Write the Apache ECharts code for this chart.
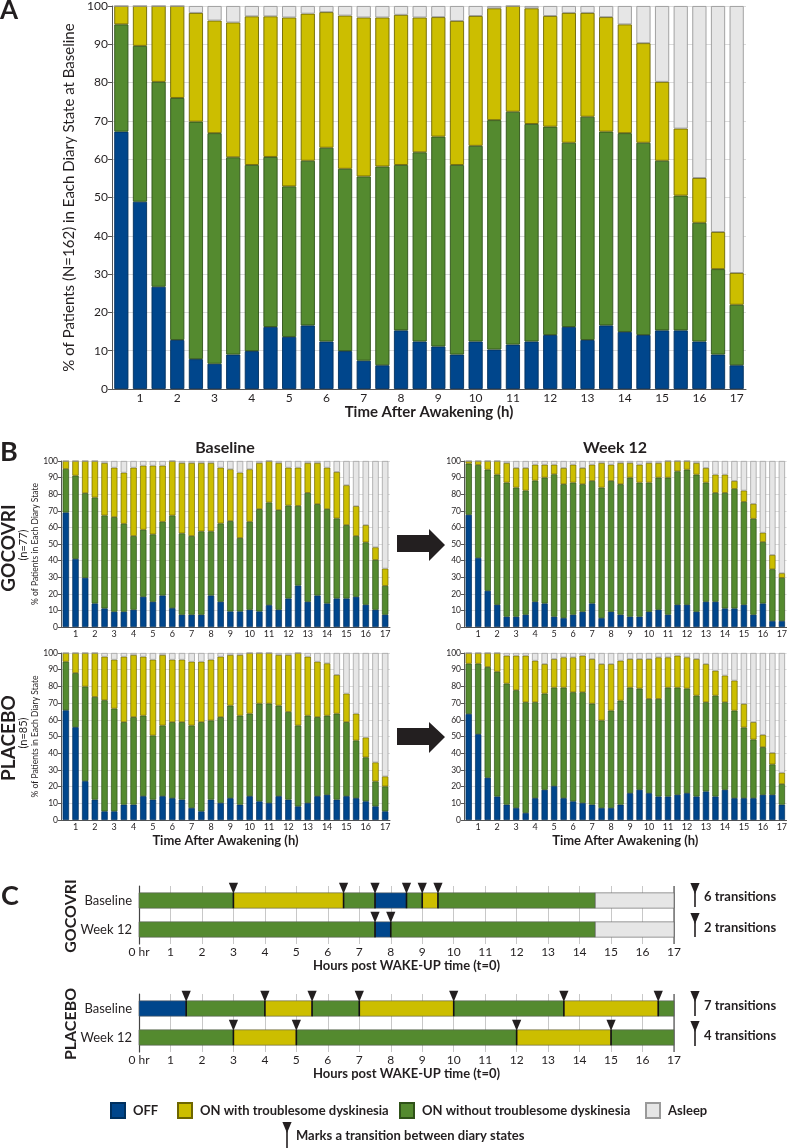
<!DOCTYPE html>
<html><head><meta charset="utf-8">
<script src="https://cdn.jsdelivr.net/npm/echarts@6/dist/echarts.min.js"></script>
<style>html,body{margin:0;padding:0;background:#fff}#c{width:790px;height:1148px}</style>
</head><body><div id="c"></div><script>
// ---------- categories ----------
const halfHours = ['0.5','1','1.5','2','2.5','3','3.5','4','4.5','5','5.5','6','6.5','7','7.5','8','8.5','9','9.5','10','10.5','11','11.5','12','12.5','13','13.5','14','14.5','15','15.5','16','16.5','17'];
const stateNames = ['OFF','ON with troublesome dyskinesia','ON without troublesome dyskinesia','Asleep'];

// ---------- Panel A (all patients, baseline) ----------
const A_off    = [67.2,48.9,26.7,12.8,7.8,6.6,9.0,9.9,16.2,13.6,16.6,12.4,9.9,7.4,6.2,15.3,12.4,11.1,9.0,12.4,10.3,11.6,12.4,14.1,16.2,12.8,16.6,14.9,14.1,15.3,15.3,12.4,9.0,6.2];
const A_on     = [28.0,40.7,53.5,63.2,62.0,60.2,51.5,48.6,44.4,39.3,43.0,50.6,47.6,48.1,51.9,43.2,49.4,54.8,49.5,51.1,59.9,60.8,56.8,54.4,48.1,58.3,50.6,51.9,50.2,44.3,35.2,31.0,22.3,15.8];
const A_td     = [4.8,10.4,19.8,24.0,28.4,29.4,35.2,38.8,36.7,44.1,38.4,35.4,40.0,41.5,38.9,39.2,35.2,31.2,37.6,33.9,29.2,27.6,30.2,28.9,33.9,27.1,29.9,28.4,26.0,20.6,17.5,11.7,9.7,8.3];
const A_sleep  = [0,0,0,0,1.8,3.8,4.3,2.7,2.7,3.0,2.0,1.6,2.5,3.0,3.0,2.3,3.0,2.9,3.9,2.6,0.6,0,0.6,2.6,1.8,1.8,2.9,4.8,9.7,19.8,32.0,44.9,59.0,69.7];

// ---------- Panel B: GOCOVRI baseline ----------
const GB_off   = [69,41,29.6,14.2,11.2,9.2,9.2,10.4,18.2,15.2,19,11.4,7.4,7.4,7.4,19,15.2,9.4,9.4,10.4,9.4,13.2,10.4,17.2,25,15.2,19,14.2,17.2,17.2,18.2,13.4,10.4,7.4];
const GB_on    = [26.2,50.2,51.0,63.8,56.0,57.0,53.0,44.4,40.4,40.6,44.4,55.8,49.0,47.4,50.2,38.6,47.2,54.4,44.2,53.0,61.6,61.8,60.0,56.0,48.0,65.6,55.0,56.8,48.2,44.2,36.6,37.6,30.0,17.4];
const GB_td    = [4.8,8.8,19.4,22.0,31.6,29.8,30.8,41.2,38.6,41.4,33.8,32.8,42.4,44.0,41.2,41.2,33.6,31.2,39.4,31.6,27.8,25.0,28.4,22.8,23.0,18.0,24.8,25.0,28.0,24.0,18.0,10.4,7.6,10.4];
const GB_sleep = [0,0,0,0,1.2,4,7,4,2.8,2.8,2.8,0,1.2,1.2,1.2,1.2,4,5,7,5,1.2,0,1.2,4,4,1.2,1.2,4,6.6,14.6,27.2,38.6,52,64.8];

// ---------- Panel B: GOCOVRI week 12 ----------
const GW_off   = [67.6,41.6,21.8,13.4,6.2,6.2,7.4,15.2,14.2,6.2,5.4,7.4,9.2,14.2,5.4,9.2,7.4,6.2,6.2,9.2,10.4,7.4,13.4,13.4,9.2,15.2,15.2,11.2,11.2,13.4,7.4,14.2,3.6,3.6];
const GW_on    = [30.8,56.0,73.0,78.4,80.8,77.8,74.8,73.0,75.8,85.8,80.6,79.6,76.8,73.8,78.6,78.8,78.6,83.8,80.8,77.8,79.6,82.6,80.4,81.4,82.6,71.8,65.6,69.6,72.0,62.0,57.8,37.0,31.2,26.0];
const GW_td    = [1.6,2.4,5.2,8.2,11.8,11.8,13.6,9.6,7.8,5.8,9.8,10.8,9.8,9.8,14.8,9.8,12.8,8.8,10.8,11.8,8.8,10.0,6.2,5.2,7.0,8.8,11.0,11.0,4.8,6.8,9.0,5.6,8.6,2.8];
const GW_sleep = [0,0,0,0,1.2,4.2,4.2,2.2,2.2,2.2,4.2,2.2,4.2,2.2,1.2,2.2,1.2,1.2,2.2,1.2,1.2,0,0,0,1.2,4.2,8.2,8.2,12,17.8,25.8,43.2,56.6,67.6];

// ---------- Panel B: PLACEBO baseline ----------
const PB_off   = [65.7,55.6,23.3,12.2,5.2,5.2,9.2,9.2,14.3,12.2,14.3,13.1,12.2,7.2,5.2,12.2,10.2,13.1,9.2,14.3,11.2,10.2,14.3,12.2,8.2,10.2,14.3,15.1,12.2,14.3,13.1,11.2,8.2,5.2];
const PB_on    = [29.1,32.4,56.6,61.5,66.5,61.5,49.4,52.4,48.2,38.4,42.3,45.5,46.4,49.4,53.4,47.4,51.4,55.4,53.3,49.4,58.5,59.5,54.2,52.5,48.4,52.3,47.3,47.4,51.5,44.3,34.5,26.3,14.9,14.9];
const PB_td    = [5.2,12.0,20.1,26.3,26.1,29.3,39.2,37.2,35.3,45.4,42.2,37.4,37.4,38.2,36.2,36.4,36.2,30.3,36.3,36.3,30.3,30.3,30.3,34.1,43.4,35.3,33.2,31.3,23.2,17.1,16.1,11.9,11.4,6.0];
const PB_sleep = [0,0,0,0,2.2,4,2.2,1.2,2.2,4,1.2,4,4,5.2,5.2,4,2.2,1.2,1.2,0,0,0,1.2,1.2,0,2.2,5.2,6.2,13.1,24.3,36.3,50.6,65.5,73.9];

// ---------- Panel B: PLACEBO week 12 ----------
const PW_off   = [63.5,51.4,25.3,14.1,9.2,7.2,4.2,13.1,18.1,20.3,13.1,11.2,10.2,9.2,7.2,7.2,9.2,16.1,18.1,16.1,14.1,14.1,15.1,16.1,14.1,17.1,14.1,18.1,13.1,13.1,13.1,15.1,15.1,9.2];
const PW_on    = [30.1,42.2,66.3,74.7,72.5,70.5,66.3,57.4,57.6,59.0,66.2,65.3,66.3,60.5,52.4,58.3,62.3,63.2,60.6,56.4,58.4,65.2,64.2,62.6,60.4,53.4,60.4,52.4,52.4,42.3,35.1,28.5,18.2,12.3];
const PW_td    = [6.4,6.4,8.4,11.2,16.7,20.7,27.9,24.9,17.7,17.1,18.1,20.9,21.9,26.7,33.8,27.9,23.9,17.1,17.7,23.9,24.9,18.1,19.1,18.7,21.9,22.9,14.9,16.0,18.0,14.1,10.4,7.4,6.9,6.8];
const PW_sleep = [0,0,0,0,1.6,1.6,1.6,4.6,6.6,3.6,2.6,2.6,1.6,3.6,6.6,6.6,4.6,3.6,3.6,3.6,2.6,2.6,1.6,2.6,3.6,6.6,10.6,13.5,16.5,30.5,41.4,49,59.8,71.7];

// ---------- Panel C: example patient diaries [start h, end h, row(0=Baseline,1=Week 12), state(0 OFF,1 TD,2 ON,3 Asleep)] ----------
const timelineRows = ['Baseline','Week 12'];
const hourTicks = ['0 hr','1','2','3','4','5','6','7','8','9','10','11','12','13','14','15','16','17'];
const timelineEndHour = 17;
const gocSegments = [
  [0,3,0,2],[3,6.5,0,1],[6.5,7.5,0,2],[7.5,8.5,0,0],[8.5,9,0,2],[9,9.5,0,1],[9.5,14.5,0,2],[14.5,17,0,3],
  [0,7.5,1,2],[7.5,8,1,0],[8,14.5,1,2],[14.5,17,1,3]
];
const gocTransitions = [[3,0],[6.5,0],[7.5,0],[8.5,0],[9,0],[9.5,0],[7.5,1],[8,1]];
const plaSegments = [
  [0,1.5,0,0],[1.5,4,0,2],[4,5.5,0,1],[5.5,7,0,2],[7,10,0,1],[10,13.5,0,2],[13.5,16.5,0,1],[16.5,17,0,2],
  [0,3,1,2],[3,5,1,1],[5,12,1,2],[12,15,1,1],[15,17,1,2]
];
const plaTransitions = [[1.5,0],[4,0],[5.5,0],[7,0],[10,0],[13.5,0],[16.5,0],[3,1],[5,1],[12,1],[15,1]];
const gocTransitionLabels = ['6 transitions','2 transitions'];
const plaTransitionLabels = ['7 transitions','4 transitions'];

// ---------- styling ----------
const FONT = 'Lato, "Open Sans", sans-serif';
const TXT = '#231f20';
const COL = {OFF:'#00468c', TD:'#ccbe00', ON:'#548a2f', SLEEP:'#e6e6e6'};
const BORDER = {OFF:'#00305e', TD:'#6e6600', ON:'#2f5219', SLEEP:'#9a9a9a'};
const stateColors = [COL.OFF, COL.TD, COL.ON, COL.SLEEP];

const grids = [
  {left:112, top:4, width:634, height:385},
  {left:61, top:461, width:329, height:166},
  {left:464, top:461, width:329, height:166},
  {left:61, top:653, width:329, height:167},
  {left:464, top:653, width:329, height:167},
  {left:139, top:886, width:535, height:58},
  {left:139, top:994, width:535, height:58}
];

function catAxis(i, big, name){
  return {type:'category', gridIndex:i, data:halfHours,
    axisLine:{show:true, lineStyle:{color:'#555', width:1}},
    axisTick:{show:false},
    axisLabel:{interval:(idx)=>idx%2===1, color:TXT, fontFamily:FONT, fontSize:big?12:9, margin:3},
    name:name||'', nameLocation:'middle', nameGap:big?12:14,
    nameTextStyle:{color:TXT, fontFamily:FONT, fontWeight:'bold', fontSize:big?15:13}
  };
}
function valAxis(i, big, name, gap){
  return {type:'value', gridIndex:i, min:0, max:100, interval:10,
    axisLine:{show:true, lineStyle:{color:'#555', width:1}},
    axisTick:{show:true, length:big?4:3, lineStyle:{color:'#555'}},
    axisLabel:{color:TXT, fontFamily:FONT, fontSize:big?12:8.5, margin:big?4:3},
    splitLine:{show:true, lineStyle:{color:'#dcdcdc', width:1}},
    name:name||'', nameLocation:'middle', nameGap:gap||0,
    nameTextStyle:{color:TXT, fontFamily:FONT, fontSize:big?15:8.5}
  };
}
function barSet(i, off, on, td, sleep, big){
  const mk = (name, data, key) => ({
    type:'bar', name, data, stack:'s'+i, xAxisIndex:i, yAxisIndex:i,
    barCategoryGap: big?'24%':'34%',
    itemStyle:{color:COL[key], borderColor:BORDER[key], borderWidth:big?0.9:0.7},
    emphasis:{disabled:true}, animation:false
  });
  return [mk(stateNames[0], off, 'OFF'), mk(stateNames[2], on, 'ON'), mk(stateNames[1], td, 'TD'), mk(stateNames[3], sleep, 'SLEEP')];
}

const xAxes = [
  catAxis(0, true, 'Time After Awakening (h)'),
  catAxis(1, false), catAxis(2, false),
  catAxis(3, false, 'Time After Awakening (h)'), catAxis(4, false, 'Time After Awakening (h)')
];
const yAxes = [
  valAxis(0, true, '% of Patients (N=162) in Each Diary State at Baseline', 27),
  valAxis(1, false, '% of Patients in Each Diary State', 19), valAxis(2, false),
  valAxis(3, false, '% of Patients in Each Diary State', 19), valAxis(4, false)
];
[5,6].forEach(i=>{
  xAxes.push({type:'value', gridIndex:i, min:0, max:17, interval:1,
    axisLine:{show:false}, axisTick:{show:false},
    axisLabel:{color:TXT, fontFamily:FONT, fontSize:12, margin:2, formatter:(v)=>hourTicks[v]},
    splitLine:{show:true, lineStyle:{color:'#c8c8c8', width:1}},
    name:'Hours post WAKE-UP time (t=0)', nameLocation:'middle', nameGap:15,
    nameTextStyle:{color:TXT, fontFamily:FONT, fontWeight:'bold', fontSize:13}});
  yAxes.push({type:'category', gridIndex:i, data:timelineRows, inverse:true,
    axisLine:{show:true, lineStyle:{color:'#444', width:1.2}}, axisTick:{show:false},
    axisLabel:{color:TXT, fontFamily:FONT, fontSize:13, margin:7}});
});

function segSeries(i, data){
  return {type:'custom', xAxisIndex:i, yAxisIndex:i, data, animation:false,
    encode:{x:[0,1], y:2},
    renderItem:(params, api)=>{
      const r = api.value(2);
      const s = api.coord([api.value(0), r]);
      const e = api.coord([api.value(1), r]);
      const h = api.size([0,1])[1]*0.53;
      return {type:'rect', shape:{x:s[0], y:s[1]-h/2, width:e[0]-s[0], height:h},
        style:{fill:stateColors[api.value(3)], stroke:'#5a5a5a', lineWidth:0.6}};
    }};
}
function edgeSeries(i){
  return {type:'custom', xAxisIndex:i, yAxisIndex:i, data:[[timelineEndHour, 0]], animation:false, z:1,
    encode:{x:0, y:1}, silent:true,
    renderItem:(params, api)=>{
      const p = api.coord([api.value(0), api.value(1)]);
      const cs = params.coordSys;
      return {type:'line', shape:{x1:p[0], y1:cs.y, x2:p[0], y2:cs.y+cs.height}, style:{stroke:'#555', lineWidth:1.2}};
    }};
}
function trSeries(i, data){
  return {type:'custom', xAxisIndex:i, yAxisIndex:i, data, animation:false, z:5,
    encode:{x:0, y:1},
    renderItem:(params, api)=>{
      const p = api.coord([api.value(0), api.value(1)]);
      const h = api.size([0,1])[1]*0.53;
      const top = p[1]-h/2, bot = p[1]+h/2;
      return {type:'group', children:[
        {type:'line', shape:{x1:p[0], y1:top, x2:p[0], y2:bot}, style:{stroke:'#111', lineWidth:1.6}},
        {type:'polygon', shape:{points:[[p[0]-4.6, top-10],[p[0]+4.6, top-10],[p[0], top+1]]}, style:{fill:TXT}}
      ]};
    }};
}

const series = [].concat(
  barSet(0, A_off, A_on, A_td, A_sleep, true),
  barSet(1, GB_off, GB_on, GB_td, GB_sleep, false),
  barSet(2, GW_off, GW_on, GW_td, GW_sleep, false),
  barSet(3, PB_off, PB_on, PB_td, PB_sleep, false),
  barSet(4, PW_off, PW_on, PW_td, PW_sleep, false),
  [edgeSeries(5), segSeries(5, gocSegments), trSeries(5, gocTransitions),
   edgeSeries(6), segSeries(6, plaSegments), trSeries(6, plaTransitions)]
);

function legendItem(name, left){
  return {data:[name], left, top:1097, icon:'rect', itemWidth:14, itemHeight:15, selectedMode:false,
    textStyle:{color:TXT, fontFamily:FONT, fontWeight:'bold', fontSize:13, padding:[0,0,0,3]}};
}

function marker(x, yTop, lineEnd){
  return [
    {type:'polygon', shape:{points:[[x-4.6,yTop],[x+4.6,yTop],[x,yTop+11]]}, style:{fill:TXT}},
    {type:'line', shape:{x1:x, y1:yTop+9, x2:x, y2:lineEnd}, style:{stroke:TXT, lineWidth:1.6}}
  ];
}
function txt(text, x, y, size, bold, align){
  return {type:'text', x, y, style:{text, fill:TXT, font:(bold?'bold ':'')+size+'px '+FONT, textAlign:align||'left', textVerticalAlign:'middle'}};
}
function vtxt(text, x, y, size, bold){
  return {type:'text', x, y, rotation:Math.PI/2, style:{text, fill:TXT, font:(bold?'bold ':'')+size+'px '+FONT, textAlign:'center', textVerticalAlign:'middle'}};
}

const graphics = [
  txt('A', 0, 11, 26, true),
  txt('B', 0, 452, 27, true),
  txt('C', 1, 896, 27, true),
  txt('Baseline', 225, 448, 16, true, 'center'),
  txt('Week 12', 615, 448, 16, true, 'center'),
  vtxt('GOCOVRI', 9, 548, 19, true),
  vtxt('(n=77)', 23, 545, 11, false),
  vtxt('PLACEBO', 9, 738, 19, true),
  vtxt('(n=85)', 23, 733, 11, false),
  vtxt('GOCOVRI', 71, 916, 16, true),
  vtxt('PLACEBO', 71, 1024, 16, true),
  {type:'polygon', shape:{points:[[397,535],[429,535],[429,529],[445,545],[429,561],[429,552],[397,552]]}, style:{fill:TXT}},
  {type:'polygon', shape:{points:[[397,728],[429,728],[429,722],[445,737],[429,753],[429,745],[397,745]]}, style:{fill:TXT}},
  txt(gocTransitionLabels[0], 704, 897, 13, true),
  txt(gocTransitionLabels[1], 704, 927.5, 13, true),
  txt(plaTransitionLabels[0], 704, 1005.5, 13, true),
  txt(plaTransitionLabels[1], 704, 1035.5, 13, true),
  txt('Marks a transition between diary states', 296, 1136, 13, true)
].concat(marker(695,883,907), marker(695,913,937), marker(695,991,1016), marker(695,1021,1046), marker(287,1122,1148));

const chart = echarts.init(document.getElementById('c'), null, {renderer:'canvas'});
chart.setOption({
  backgroundColor:'#fff',
  animation:false,
  grid:grids,
  xAxis:xAxes,
  yAxis:yAxes,
  legend:[legendItem(stateNames[0],105), legendItem(stateNames[1],172), legendItem(stateNames[2],394), legendItem(stateNames[3],640)],
  series,
  graphic:graphics
});
</script></body></html>
